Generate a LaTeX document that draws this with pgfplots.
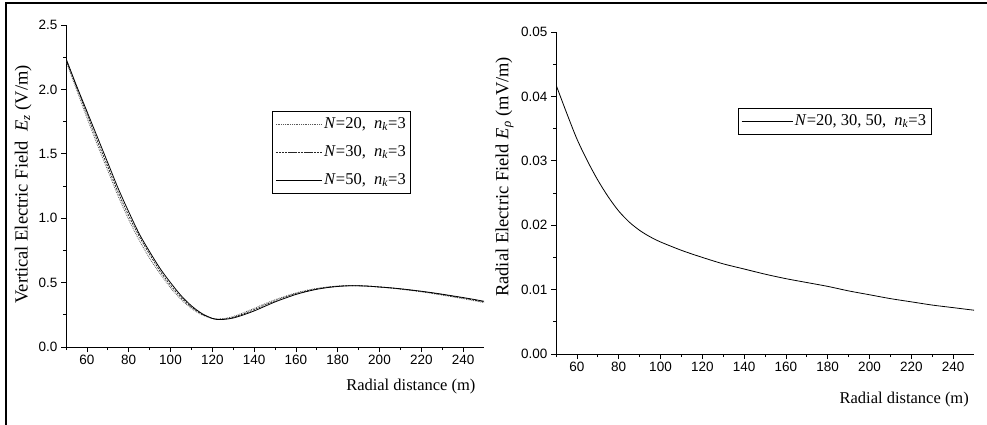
\documentclass[border=0pt]{standalone}
\usepackage{pgfplots}
\pgfplotsset{compat=1.18}
\usepackage{fontspec}
\setmainfont{Liberation Serif}
\newfontfamily\arialfont{Liberation Sans}
\pgfplotsset{
  myax/.style={
    scale only axis, width=418pt, height=322pt,
    axis x line*=bottom, axis y line*=left,
    axis line style={-, line width=0.9pt},
    xmin=50, xmax=250,
    xtick={60,80,...,240},
    minor x tick num=1,
    extra x ticks={50}, extra x tick labels={},
    extra x tick style={major tick length=3pt},
    tick align=outside,
    major tick length=5pt, minor tick length=3pt,
    every tick/.style={black, line width=0.8pt},
    /pgf/number format/assume math mode=true,
    ticklabel style={font=\fontsize{13.5}{15}\selectfont\arialfont},
    xlabel style={font=\fontsize{16.5}{19}\selectfont},
    ylabel style={font=\fontsize{18.5}{21}\selectfont},
    legend cell align=left,
    legend style={draw=black, line width=0.7pt, font=\fontsize{16.5}{19}\selectfont,
      inner xsep=3pt, inner ysep=3pt,
      nodes={text height=12pt, text depth=4pt}},
  }
}
\begin{document}
\begin{tikzpicture}
\useasboundingbox (0,0) rectangle (987pt,-425pt);
\draw[line width=2.4pt] (6pt,-425pt) -- (6pt,-3pt) -- (987pt,-3pt);
% Left axis
\begin{axis}[myax,
  at={(66pt,-347pt)}, anchor=south west,
  ymin=0, ymax=2.5, ytick={0,0.5,...,2.5}, minor y tick num=1,
  yticklabel style={/pgf/number format/.cd, fixed, fixed zerofill, precision=1},
  xlabel={Radial distance (m)},
  xlabel style={at={(axis description cs:0.825,0)}, anchor=north, yshift=-29pt},
  ylabel={Vertical Electric Field\ \ \textit{E}\textsubscript{\textit{z}} (V/m)},
  ylabel style={at={(axis description cs:-0.074,0.505)}, anchor=south},
  legend style={at={(axis description cs:0.493,0.733)}, anchor=north west, row sep=8pt},
  legend image code/.code={\path (0pt,0pt) -- (46pt,0pt); \draw[#1] (9pt,0pt) -- (46pt,0pt);},
]
\addplot[black!65, line width=0.8pt, densely dotted, smooth] coordinates {
(50,2.22)(55,2.00)(60,1.78)(65,1.57)(70,1.37)(75,1.17)(80,0.99)(85,0.83)(90,0.69)(95,0.57)
(100,0.46)(105,0.37)(110,0.30)(115,0.25)(120,0.222)(123,0.218)(126,0.222)(130,0.237)(135,0.267)
(140,0.30)(145,0.335)(150,0.367)(155,0.395)(160,0.42)(165,0.44)(170,0.455)(175,0.466)(180,0.473)
(185,0.476)(190,0.476)(195,0.472)(200,0.465)(205,0.458)(210,0.449)(215,0.439)(220,0.428)
(225,0.416)(230,0.403)(235,0.389)(240,0.375)(245,0.36)(250,0.345)};
\addlegendentry{\textit{N}=20,\ \ \textit{n}\textsubscript{\textit{k}}=3}
\addplot[black!85, line width=0.8pt, dash pattern=on 2pt off 1.2pt, smooth] coordinates {
(50,2.23)(55,2.02)(60,1.81)(65,1.60)(70,1.40)(75,1.20)(80,1.02)(85,0.86)(90,0.72)(95,0.59)
(100,0.48)(105,0.385)(110,0.31)(115,0.255)(120,0.222)(123,0.215)(126,0.218)(130,0.23)(135,0.258)
(140,0.29)(145,0.325)(150,0.358)(155,0.388)(160,0.414)(165,0.435)(170,0.452)(175,0.464)(180,0.472)
(185,0.476)(190,0.476)(195,0.472)(200,0.466)(205,0.459)(210,0.451)(215,0.441)(220,0.431)
(225,0.419)(230,0.407)(235,0.393)(240,0.38)(245,0.365)(250,0.35)};
\addlegendentry{\textit{N}=30,\ \ \textit{n}\textsubscript{\textit{k}}=3}
\addplot[black, line width=0.8pt, smooth] coordinates {
(50,2.24)(55,2.03)(60,1.83)(65,1.63)(70,1.43)(75,1.23)(80,1.05)(85,0.88)(90,0.74)(95,0.61)
(100,0.50)(105,0.40)(110,0.32)(115,0.26)(120,0.222)(123,0.213)(126,0.215)(130,0.225)(135,0.25)
(140,0.28)(145,0.315)(150,0.35)(155,0.38)(160,0.408)(165,0.43)(170,0.448)(175,0.461)(180,0.47)
(185,0.475)(190,0.475)(195,0.472)(200,0.466)(205,0.46)(210,0.452)(215,0.443)(220,0.433)
(225,0.422)(230,0.41)(235,0.397)(240,0.384)(245,0.37)(250,0.355)};
\addlegendentry{\textit{N}=50,\ \ \textit{n}\textsubscript{\textit{k}}=3}
\end{axis}
% Right axis
\begin{axis}[myax,
  at={(556pt,-354pt)}, anchor=south west,
  ymin=0, ymax=0.05, ytick={0,0.01,...,0.05}, minor y tick num=1,
  yticklabel style={/pgf/number format/.cd, fixed, fixed zerofill, precision=2},
  scaled y ticks=false,
  xlabel={Radial distance (m)},
  xlabel style={at={(axis description cs:0.833,0)}, anchor=north, yshift=-35pt},
  ylabel={Radial Electric Field \textit{E}\textsubscript{\textit{ρ}} (mV/m)},
  ylabel style={at={(axis description cs:-0.093,0.55)}, anchor=south},
  legend style={at={(axis description cs:0.435,0.764)}, anchor=north west},
  legend image code/.code={\path (0pt,0pt) -- (51pt,0pt); \draw[#1] (17pt,0pt) -- (51pt,0pt);},
]
\addplot[black, line width=0.8pt, smooth] coordinates {
(50,0.0418)(55,0.0375)(60,0.0334)(65,0.0300)(70,0.0270)(75,0.0244)(80,0.0222)(85,0.0205)(90,0.0192)
(95,0.0182)(100,0.0174)(110,0.0161)(120,0.0150)(130,0.0140)(140,0.0132)(150,0.0124)(160,0.0117)
(170,0.0111)(180,0.0105)(190,0.0098)(200,0.0092)(210,0.0086)(220,0.0081)(230,0.0076)(240,0.0072)(250,0.0068)};
\addlegendentry{\textit{N}=20, 30, 50,\ \ \textit{n}\textsubscript{\textit{k}}=3}
\end{axis}
\end{tikzpicture}
\end{document}
